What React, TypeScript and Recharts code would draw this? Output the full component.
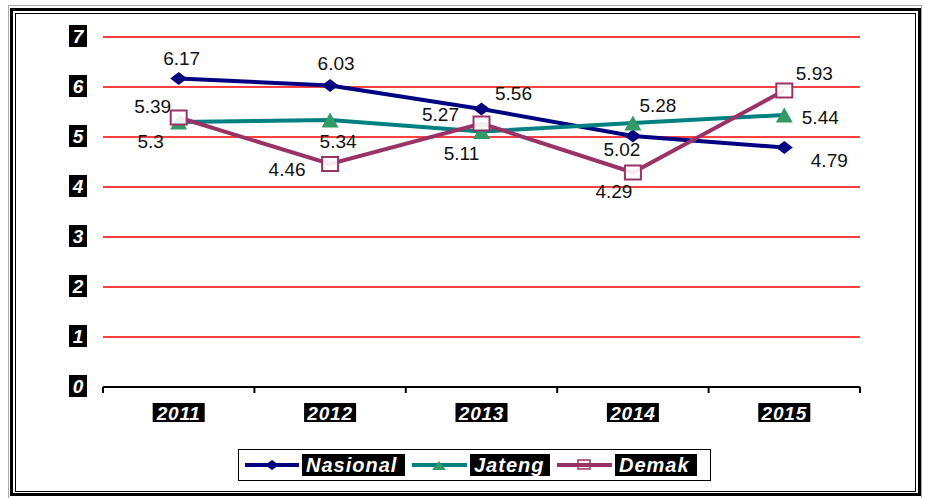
import React from 'react';
import { LineChart, Line, XAxis, YAxis, CartesianGrid, LabelList } from 'recharts';

const years = ['2011', '2012', '2013', '2014', '2015'];
const nasional = [6.17, 6.03, 5.56, 5.02, 4.79];
const jateng = [5.3, 5.34, 5.11, 5.28, 5.44];
const demak = [5.39, 4.46, 5.27, 4.29, 5.93];
const yTicks = [0, 1, 2, 3, 4, 5, 6, 7];
const seriesNames = ['Nasional', 'Jateng', 'Demak'];

const data = years.map((y, i) => ({ year: y, nasional: nasional[i], jateng: jateng[i], demak: demak[i] }));

const W = 925;
const H = 498;
const M = { top: 37, right: 65, bottom: 81, left: 63 };
const Y_AXIS_W = 40;
const X_AXIS_H = 30;
const PLOT_W = W - M.left - M.right - Y_AXIS_W;
const BAND = PLOT_W / years.length;

const FONT = '"Liberation Sans", Arial, sans-serif';

const NAVY = '#000080';
const TEAL = '#008080';
const GREEN = '#339966';
const PLUM = '#993366';

// label offsets (dx, dy) relative to each point
const offN = [[3, -20], [6, -22], [32, -16], [-11, 13], [45, 13]];
const offJ = [[-28, 19], [8, 21], [-20, 22], [25, -18], [36, 2]];
const offD = [[-26, -11], [-43, 5], [-41, -9], [-19, 19], [30, -17]];

const makeLabel = (offs: number[][]) => (p: any) => {
  const { x, y, value, index } = p;
  const o = offs[index] || [0, -15];
  return (
    <text x={x + o[0]} y={y + o[1]} textAnchor="middle" dominantBaseline="central"
      fontFamily={FONT} fontSize={19} fill="#111">{String(value)}</text>
  );
};

const Diamond = (p: any) => {
  const { cx, cy } = p;
  if (cx == null || cy == null) return <g key={p.key} />;
  return <path key={p.key} d={`M${cx - 8.5},${cy} L${cx},${cy - 6.5} L${cx + 8.5},${cy} L${cx},${cy + 6.5} Z`} fill={NAVY} />;
};
const Tri = (p: any) => {
  const { cx, cy } = p;
  if (cx == null || cy == null) return <g key={p.key} />;
  return <path key={p.key} d={`M${cx - 8.5},${cy + 7.5} L${cx},${cy - 7.5} L${cx + 8.5},${cy + 7.5} Z`} fill={GREEN} />;
};
const Sq = (p: any) => {
  const { cx, cy } = p;
  if (cx == null || cy == null) return <g key={p.key} />;
  return <rect key={p.key} x={cx - 8} y={cy - 7} width={16} height={14} fill="#fff" fillOpacity={0.9} stroke={PLUM} strokeWidth={2} />;
};

const XTick = (p: any) => {
  const { x, y, payload, index } = p;
  const left = x - BAND / 2;
  return (
    <g>
      <line x1={left} y1={y} x2={left} y2={y + 6} stroke="#000" strokeWidth={2} />
      {index === years.length - 1 && (
        <line x1={x + BAND / 2} y1={y} x2={x + BAND / 2} y2={y + 6} stroke="#000" strokeWidth={2} />
      )}
      <rect x={x - 26} y={y + 16} width={52} height={19} fill="#000" />
      <text x={x} y={y + 26} textAnchor="middle" dominantBaseline="central" fontFamily={FONT}
        fontWeight="bold" fontStyle="italic" fontSize={19} letterSpacing={0.8} fill="#fff">{payload.value}</text>
    </g>
  );
};

const YTick = (p: any) => {
  const { x, y, payload } = p;
  return (
    <g>
      <rect x={x - 34} y={y - 12} width={18} height={22} fill="#000" />
      <text x={x - 25} y={y - 1} textAnchor="middle" dominantBaseline="central" fontFamily={FONT}
        fontWeight="bold" fontStyle="italic" fontSize={19} fill="#fff">{payload.value}</text>
    </g>
  );
};

const legendIcons = [
  (
    <svg width={54} height={12}><line x1={0} y1={6} x2={54} y2={6} stroke={NAVY} strokeWidth={4} /><path d="M20,6 L27,1 L34,6 L27,11 Z" fill={NAVY} /></svg>
  ),
  (
    <svg width={55} height={12}><line x1={0} y1={6} x2={55} y2={6} stroke={TEAL} strokeWidth={4} /><path d="M20,11 L27,2 L34,11 Z" fill={GREEN} /></svg>
  ),
  (
    <svg width={55} height={12}><line x1={0} y1={6} x2={55} y2={6} stroke={PLUM} strokeWidth={4} /><rect x={21} y={1} width={12} height={9} fill="none" stroke={PLUM} strokeWidth={1.5} /></svg>
  ),
];

const labelWidths = [103, 80, 82];

export default function App() {
  return (
    <div style={{ position: 'absolute', left: 0, top: 0, width: W, height: H, background: '#fff', overflow: 'hidden' }}>
      <div style={{ position: 'absolute', left: 8, top: 5, width: 914, height: 500, border: '1px solid #aaa', boxSizing: 'border-box' }} />
      <div style={{ position: 'absolute', left: 10, top: 8, width: 911, height: 488, border: '3px solid #000', boxSizing: 'border-box' }} />
      <div style={{ position: 'absolute', left: 15, top: 13, width: 901, height: 479, border: '1px solid #000', boxSizing: 'border-box' }} />
      <div style={{ position: 'absolute', left: 0, top: 0 }}>
        <LineChart width={W} height={H} data={data} margin={M}>
          <CartesianGrid vertical={false} stroke="#ff0000" strokeWidth={1.5} horizontalValues={[1, 2, 3, 4, 5, 6, 7]} />
          <XAxis dataKey="year" height={X_AXIS_H} axisLine={{ stroke: '#000', strokeWidth: 2 }} tickLine={false}
            tickSize={0} tickMargin={0} tick={<XTick />} interval={0} padding={{ left: BAND / 2, right: BAND / 2 }} />
          <YAxis width={Y_AXIS_W} domain={[0, 7]} ticks={yTicks} axisLine={false} tickLine={false}
            tickSize={0} tickMargin={0} tick={<YTick />} interval={0} />
          <Line dataKey="nasional" name={seriesNames[0]} stroke={NAVY} strokeWidth={4} dot={Diamond} isAnimationActive={false}>
            <LabelList dataKey="nasional" content={makeLabel(offN)} />
          </Line>
          <Line dataKey="jateng" name={seriesNames[1]} stroke={TEAL} strokeWidth={4} dot={Tri} isAnimationActive={false}>
            <LabelList dataKey="jateng" content={makeLabel(offJ)} />
          </Line>
          <Line dataKey="demak" name={seriesNames[2]} stroke={PLUM} strokeWidth={4} dot={Sq} isAnimationActive={false}>
            <LabelList dataKey="demak" content={makeLabel(offD)} />
          </Line>
        </LineChart>
      </div>
      <div style={{ position: 'absolute', left: 238, top: 449, width: 473, height: 32, border: '1.5px solid #000', boxSizing: 'border-box', display: 'flex', alignItems: 'center', paddingLeft: 6, background: '#fff' }}>
        {seriesNames.map((n, i) => (
          <div key={n} style={{ display: 'flex', alignItems: 'center', marginRight: 7 }}>
            <div style={{ marginRight: 3, display: 'flex' }}>{legendIcons[i]}</div>
            <div style={{ background: '#000', color: '#fff', fontFamily: FONT, fontWeight: 'bold', fontStyle: 'italic', fontSize: 20, letterSpacing: 1, height: 22, lineHeight: '22px', width: labelWidths[i], boxSizing: 'border-box', paddingLeft: 4, overflow: 'hidden', whiteSpace: 'nowrap' }}>{n}</div>
          </div>
        ))}
      </div>
    </div>
  );
}
